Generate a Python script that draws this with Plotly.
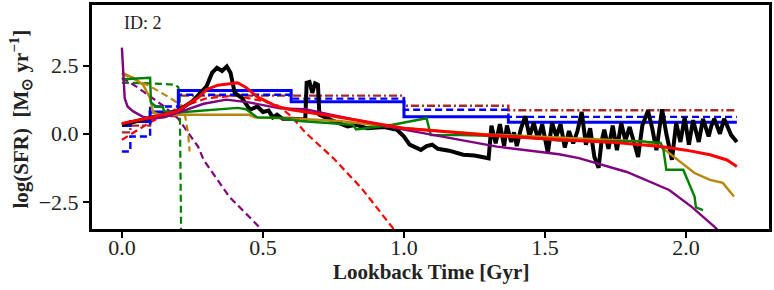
import plotly.graph_objects as go

# ---------------- data ----------------
black_x = [0, 0.05, 0.1, 0.195, 0.25, 0.30, 0.32, 0.337, 0.355, 0.372, 0.385, 0.40, 0.425, 0.454, 0.48, 0.50, 0.52,
           0.535, 0.55, 0.57, 0.6, 0.63, 0.65, 0.655, 0.665, 0.675, 0.685, 0.695, 0.70, 0.74, 0.8, 0.83, 0.87, 0.93,
           0.975, 1.0, 1.02, 1.06, 1.08, 1.1, 1.12, 1.16, 1.21, 1.25, 1.29,
           1.30, 1.31, 1.325, 1.34, 1.355, 1.365, 1.38, 1.39, 1.40, 1.415, 1.43, 1.445, 1.46, 1.475, 1.49, 1.51,
           1.525, 1.54, 1.555, 1.57, 1.585, 1.60, 1.615, 1.63, 1.645, 1.66, 1.675, 1.69, 1.70, 1.71, 1.725, 1.74,
           1.755, 1.77, 1.785, 1.80, 1.815, 1.83, 1.845, 1.865, 1.88, 1.895, 1.915, 1.93, 1.95, 1.965, 1.98, 1.995,
           2.01, 2.025, 2.045, 2.06, 2.08, 2.09, 2.10, 2.12, 2.135, 2.15, 2.16, 2.18]
black_y = [0.33, 0.45, 0.59, 0.82, 1.19, 1.74, 2.24, 2.42, 2.3, 2.47, 2.24, 1.5, 1.32, 0.88, 1.0, 0.8, 0.85,
           0.6, 0.7, 0.55, 0.55, 0.51, 0.52, 1.87, 1.9, 1.5, 1.85, 1.8, 0.7, 0.51, 0.27, 0.33, 0.2, 0.25,
           0.15, -0.1, -0.4, -0.59, -0.45, -0.4, -0.55, -0.62, -0.77, -0.8, -0.9,
           -0.9, 0.3, -0.35, 0.35, -0.45, 0.3, -0.3, 0.05, -0.45, 0.2, 0.65, -0.1, 0.4, -0.2, 0.35, -0.7,
           0.4, -0.1, 0.35, -0.5, 0.1, -0.35, 0.1, 0.8, -0.4, 0.2, -0.85, -1.25, -0.3, 0.15, -0.55, 0.3,
           -0.6, 0.4, -0.25, 0.25, -0.25, -0.85, 0.3, 0.85, 0.2, -0.6, 0.9, 0.0, -0.95, 0.4, -0.3, 0.6,
           -0.4, 0.5, -0.3, 0.55, -0.1, 0.3, 0.55, 0.0, 0.55, 0.2, -0.05, -0.3]

red_x = [0, 0.05, 0.1, 0.195, 0.27, 0.30, 0.34, 0.41, 0.44, 0.48, 0.55, 0.6, 0.74, 1.0, 1.3, 1.55, 1.75, 1.91,
         2.0, 2.085, 2.145, 2.18]
red_y = [0.38, 0.48, 0.59, 0.82, 1.32, 1.62, 1.78, 1.87, 1.7, 1.35, 1.0, 0.88, 0.66, 0.2, -0.05, -0.22, -0.32,
         -0.47, -0.6, -0.77, -0.96, -1.2]

purple_x = [0, 0.005, 0.01, 0.02, 0.04, 0.075, 0.11, 0.15, 0.2, 0.29, 0.37, 0.45, 0.56, 0.65, 0.74, 1.0, 1.33,
            1.55, 1.62, 1.79, 1.94, 2.02, 2.1, 2.13]
purple_y = [3.16, 2.0, 1.3, 1.0, 0.82, 0.62, 0.56, 0.6, 0.77, 1.1, 1.25, 1.15, 0.93, 0.9, 0.7, 0.15, -0.47,
            -0.75, -0.89, -1.4, -2.06, -2.68, -3.4, -3.7]

green_x = [0, 0.1, 0.103, 0.12, 0.145, 0.15, 0.2, 0.25, 0.3, 0.41, 0.44, 0.48, 0.56, 0.63, 0.82, 0.83, 0.96,
           1.08, 1.095, 1.2, 1.4, 1.55, 1.84, 1.91, 1.92, 1.93, 1.99, 2.03, 2.035, 2.06]
green_y = [2.0, 2.05, 1.15, 1.0, 0.98, 0.82, 0.78, 0.82, 0.88, 0.95, 0.9, 0.6, 0.59, 0.47, 0.33, 0.16, 0.33,
           0.57, -0.05, -0.05, -0.1, -0.25, -0.28, -0.33, -0.6, -1.32, -1.32, -2.3, -2.7, -2.8]

gold_x = [0, 0.04, 0.075, 0.1, 0.11, 0.13, 0.2, 0.45, 0.47, 0.62, 0.77, 1.0, 1.3, 1.55, 1.85, 1.91, 1.97, 2.03,
          2.085, 2.13, 2.17]
gold_y = [2.24, 2.05, 1.8, 1.3, 0.8, 0.7, 0.7, 0.7, 0.6, 0.55, 0.47, 0.2, -0.02, -0.14, -0.28, -0.47, -0.96,
          -1.44, -1.69, -1.8, -2.3]

purple_d_x = [0, 0.05, 0.1, 0.15, 0.2, 0.27, 0.29, 0.38, 0.49, 0.5]
purple_d_y = [2.05, 1.74, 1.37, 1.0, 0.55, -0.47, -0.96, -2.3, -3.45, -3.7]

green_d_x = [0, 0.1, 0.19, 0.2, 0.205, 0.21]
green_d_y = [1.87, 1.85, 1.8, 1.7, 1.4, -3.7]

gold_d_x = [0, 0.1, 0.17, 0.217, 0.225, 0.235, 0.24]
gold_d_y = [2.2, 1.74, 1.32, 1.0, 0.6, 0.0, -0.65]

red_d_x = [0, 0.1, 0.2, 0.3, 0.4, 0.5, 0.55, 0.6, 0.65, 0.75, 0.85, 0.96, 0.97]
red_d_y = [-0.22, 0.42, 0.95, 1.3, 1.4, 1.2, 1.05, 0.65, 0.05, -0.9, -2.0, -3.45, -3.7]

step_x = [0, 0.03, 0.1, 0.2, 0.6, 1.0, 1.37, 2.18]
blue_y = [0.3, 0.45, 0.8, 1.59, 1.17, 0.62, 0.42, 0.42]
blue_d_y = [-0.65, -0.1, 1.0, 1.43, 1.29, 0.88, 0.62, 0.62]
brown_y = [0.05, 0.3, 0.65, 1.4, 1.4, 1.03, 0.86, 0.86]

x_ticks = [0, 0.5, 1.0, 1.5, 2.0]
x_ticklabels = ["0.0", "0.5", "1.0", "1.5", "2.0"]
y_ticks = [-2.5, 0, 2.5]
y_ticklabels = ["\u22122.5", "0.0", "2.5"]

# ---------------- figure ----------------
fig = go.Figure()

def add(x, y, color, width, dash="solid", shape="linear"):
    fig.add_trace(go.Scatter(x=x, y=y, mode="lines",
                             line=dict(color=color, width=width, dash=dash, shape=shape),
                             showlegend=False, hoverinfo="skip"))

add(purple_d_x, purple_d_y, "#800080", 2.2, "7px,4px")
add(green_d_x, green_d_y, "#008000", 2.2, "7px,4px")
add(gold_d_x, gold_d_y, "#B8860B", 2.2, "7px,4px")
add(red_d_x, red_d_y, "#FF0000", 2.2, "7px,4px")
add(step_x, brown_y, "#A52A2A", 2.4, "8px,3px,2px,3px", "hv")
add(step_x, blue_d_y, "#0000FF", 2.4, "7px,4px", "hv")
add(step_x, blue_y, "#0000FF", 3, "solid", "hv")
add(black_x, black_y, "#000000", 4)
add(gold_x, gold_y, "#B8860B", 2.4)
add(green_x, green_y, "#008000", 2.4)
add(purple_x, purple_y, "#800080", 2.4)
add(red_x, red_y, "#FF0000", 3)

font_family = "Liberation Serif"

fig.add_annotation(text="ID: 2", xref="paper", yref="paper", x=0.045, y=0.975,
                   xanchor="left", yanchor="top", showarrow=False,
                   font=dict(family=font_family, size=18, color="#222222"))

fig.add_annotation(text="<b>Lookback Time [Gyr]</b>", xref="paper", yref="paper",
                   x=0.5, y=-0.19, xanchor="center", yanchor="middle", showarrow=False,
                   font=dict(family=font_family, size=21, color="#222222"))

fig.add_annotation(text="<b>log(SFR)  [M<sub>\u2299</sub> yr<sup>\u22121</sup>]</b>", xref="paper", yref="paper",
                   x=-0.106, y=0.49, xanchor="center", yanchor="middle", textangle=-90, showarrow=False,
                   font=dict(family=font_family, size=21, color="#222222"))

axis_common = dict(showline=True, mirror=True, linecolor="black", linewidth=3,
                   ticks="outside", ticklen=6, tickwidth=2, tickcolor="black",
                   showgrid=False, zeroline=False, automargin=False,
                   tickfont=dict(family=font_family, size=22, color="#222222"))

fig.update_layout(
    width=774, height=290,
    margin=dict(l=92, r=5, t=5, b=61),
    paper_bgcolor="white", plot_bgcolor="white",
    xaxis=dict(range=[-0.106, 2.294], tickvals=x_ticks, ticktext=x_ticklabels,
               ticklabelstandoff=-9, **axis_common),
    yaxis=dict(range=[-3.49, 4.72], tickvals=y_ticks, ticktext=y_ticklabels, **axis_common),
)

fig.write_html("out.html", config={"displayModeBar": False},
               post_script="document.body.style.margin='0';document.body.style.overflow='hidden';")
